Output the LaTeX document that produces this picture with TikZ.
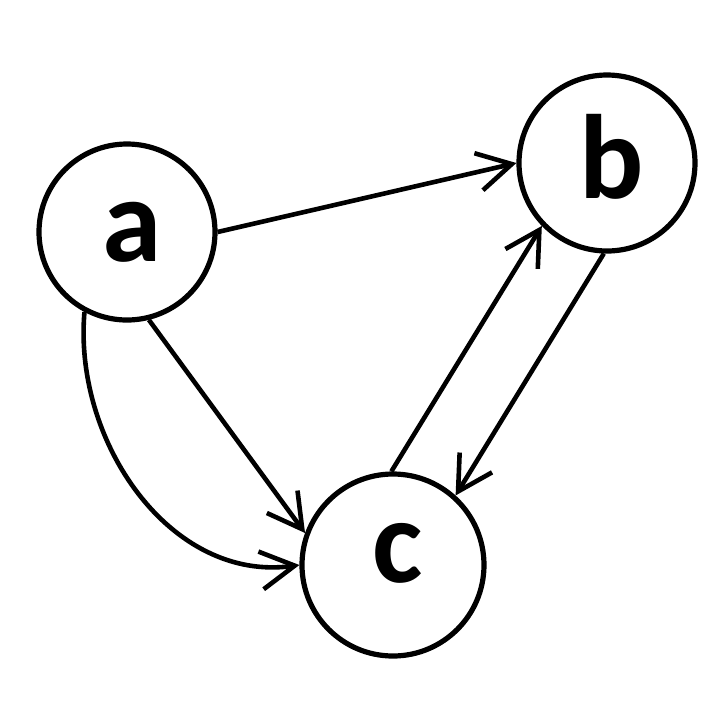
\documentclass[tikz,border=0pt]{standalone}
\usepackage{fontspec}
\setmainfont{Carlito}
\usetikzlibrary{arrows.meta}

\tikzset{
	vertex/.style={circle, draw, line width=2.6pt, minimum size=88pt, inner sep=0pt,
		execute at begin node=\hspace{5pt},
		font=\fontsize{60}{64}\selectfont\bfseries},
	edge/.style={line width=2.3pt, -{Straight Barb[length=17pt,width=19pt,line width=2.3pt]}}
}

\begin{document}
\begin{tikzpicture}[x=0.5pt, y=-0.5pt]

	\useasboundingbox (0,0) rectangle (720,720);

	\node[vertex] (a) at (127,232) {a};
	\node[vertex, text depth=7pt] (b) at (607,163) {b};
	\node[vertex, minimum size=91pt, text depth=12pt] (c) at (393,565) {c};

	\draw[edge] (a.east) -- (b.west);
	\draw[edge] (a.-76) -- (c.160);
	\draw[edge] (a.242) to[out=-95, in=188] (c.west);
	\draw[edge] (c.91) -- (b.224);
	\draw[edge] (b.-92) -- (c.48);

\end{tikzpicture}
\end{document}
